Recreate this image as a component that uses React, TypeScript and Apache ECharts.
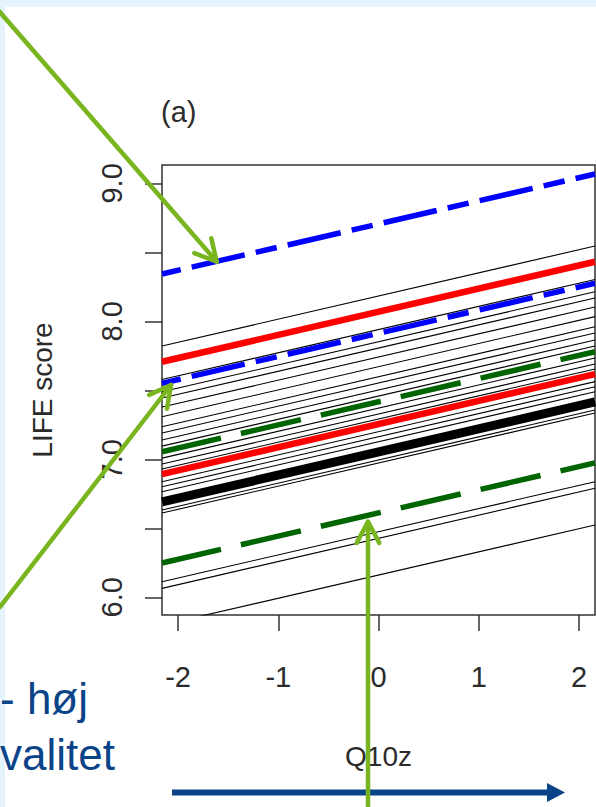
import React, { useEffect, useRef } from "react";
import * as echarts from "echarts";

// Axis extents (R-style 4% padding) and ticks
const X_MIN = -2.16;
const X_MAX = 2.16;
const Y_MIN = 5.872;
const Y_MAX = 9.133;
const X_TICKS = [-2, -1, 0, 1, 2];
const Y_TICKS = [6, 6.5, 7, 7.5, 8, 8.5, 9];
const Y_LABELS = [6, 7, 8, 9];

// Each line: LIFE score at the left edge (Q10z = X_MIN) and right edge (Q10z = X_MAX)
const THIN_LEFT = [7.821, 7.578, 7.49, 7.444, 7.379, 7.309, 7.236, 7.191, 7.14, 7.096, 7.009, 6.966, 6.93, 6.838, 6.801, 6.765, 6.633, 6.611, 6.113, 6.065, 5.799];
const THIN_RIGHT = [8.546, 8.303, 8.215, 8.169, 8.104, 8.034, 7.961, 7.916, 7.865, 7.821, 7.734, 7.691, 7.655, 7.563, 7.526, 7.49, 7.358, 7.336, 6.838, 6.79, 6.524];
const THICK_LEFT = [6.691];
const THICK_RIGHT = [7.416];
const RED_LEFT = [7.707, 6.893];
const RED_RIGHT = [8.432, 7.618];
const BLUE_LEFT = [8.343, 7.551];
const BLUE_RIGHT = [9.068, 8.276];
const GREEN_LEFT = [7.055, 6.249];
const GREEN_RIGHT = [7.78, 6.974];

const FONT = "'Liberation Sans', Arial, Helvetica, sans-serif";
const AXIS_TEXT = "#2b2b2b";
const ARROW_GREEN = "#79b51f";
const NAVY = "#0b4388";

function arrowHead(fx: number, fy: number, tx: number, ty: number, len: number, deg: number) {
  const dx = fx - tx, dy = fy - ty;
  const d = Math.hypot(dx, dy);
  const ux = dx / d, uy = dy / d;
  const a = (deg * Math.PI) / 180;
  const rot = (s: number) => [
    tx + len * (ux * Math.cos(s * a) - uy * Math.sin(s * a)),
    ty + len * (ux * Math.sin(s * a) + uy * Math.cos(s * a)),
  ];
  return [rot(1), [tx, ty], rot(-1)];
}

function greenArrow(fx: number, fy: number, tx: number, ty: number) {
  const style = { stroke: ARROW_GREEN, lineWidth: 4.5, lineCap: "round", lineJoin: "round", fill: null };
  return [
    { type: "line", shape: { x1: fx, y1: fy, x2: tx, y2: ty }, style, z: 100 },
    { type: "polyline", shape: { points: arrowHead(fx, fy, tx, ty, 24, 28) }, style, z: 100 },
  ];
}

export default function App() {
  const ref = useRef<HTMLDivElement>(null);
  useEffect(() => {
    if (!ref.current) return;
    const chart = echarts.init(ref.current, undefined, { renderer: "svg" });

    const line = (l: number, r: number, lineStyle: any, z: number) => ({
      type: "line",
      data: [[X_MIN, l], [X_MAX, r]],
      symbol: "none",
      silent: true,
      clip: true,
      z,
      lineStyle,
    });

    const series: any[] = [];
    THIN_LEFT.forEach((l, i) => series.push(line(l, THIN_RIGHT[i], { color: "#000", width: 1.1 }, 2)));
    THICK_LEFT.forEach((l, i) => series.push(line(l, THICK_RIGHT[i], { color: "#000", width: 9 }, 3)));
    RED_LEFT.forEach((l, i) => series.push(line(l, RED_RIGHT[i], { color: "#ff0000", width: 6.5 }, 4)));
    GREEN_LEFT.forEach((l, i) =>
      series.push(line(l, GREEN_RIGHT[i], { color: "#006400", width: 5.5, type: [61.5, 20.5], cap: "butt", dashOffset: 1 }, 4))
    );
    BLUE_LEFT.forEach((l, i) =>
      series.push(line(l, BLUE_RIGHT[i], { color: "#0000ff", width: 5.5, type: [54.4, 11.3, 21.5, 11.3], cap: "butt", dashOffset: 68.4 }, 4))
    );

    const axisText = { color: AXIS_TEXT, fontFamily: FONT, fontSize: 29 };

    chart.setOption({
      animation: false,
      backgroundColor: "#ffffff",
      grid: { left: 162, top: 165, width: 433, height: 450, show: true, borderColor: "#333", borderWidth: 1.5 },
      xAxis: {
        type: "value",
        min: X_MIN,
        max: X_MAX,
        axisLine: { show: false, onZero: false },
        splitLine: { show: false },
        axisTick: { show: true, customValues: X_TICKS, length: 16, lineStyle: { color: "#333", width: 1.5 } },
        axisLabel: { ...axisText, customValues: X_TICKS, margin: 47 },
        name: "Q10z",
        nameLocation: "middle",
        nameGap: 127,
        nameTextStyle: { ...axisText, fontSize: 28 },
      },
      yAxis: {
        type: "value",
        min: Y_MIN,
        max: Y_MAX,
        axisLine: { show: false, onZero: false },
        splitLine: { show: false },
        axisTick: { show: true, customValues: Y_TICKS, length: 17, lineStyle: { color: "#333", width: 1.5 } },
        axisLabel: { ...axisText, customValues: Y_LABELS, rotate: 90, margin: 36, formatter: (v: number) => v.toFixed(1) },
        name: "LIFE score",
        nameLocation: "middle",
        nameGap: 106,
        nameTextStyle: { ...axisText, fontSize: 28 },
      },
      series,
      graphic: [
        { type: "rect", shape: { x: 0, y: 0, width: 596, height: 7 }, style: { fill: "#e4f3fc" }, z: 0 },
        { type: "rect", shape: { x: 0, y: 0, width: 5, height: 807 }, style: { fill: "#e4f3fc" }, z: 0 },
        { type: "text", x: 161, y: 112, style: { text: "(a)", font: `29px ${FONT}`, fill: AXIS_TEXT, verticalAlign: "middle" }, z: 10 },
        { type: "text", x: 0, y: 698, style: { text: "- høj", font: `44px ${FONT}`, fill: NAVY, verticalAlign: "middle" }, z: 10 },
        { type: "text", x: 0, y: 754, style: { text: "valitet", font: `44px ${FONT}`, fill: NAVY, verticalAlign: "middle" }, z: 10 },
        { type: "line", shape: { x1: 172, y1: 792.5, x2: 550, y2: 792.5 }, style: { stroke: NAVY, lineWidth: 6 }, z: 10 },
        { type: "polygon", shape: { points: [[547, 783], [565, 792.5], [547, 802]] }, style: { fill: NAVY }, z: 10 },
        ...greenArrow(-2, 10, 216.7, 261.7),
        ...greenArrow(0, 607, 171, 385),
        ...greenArrow(368, 815, 368, 521.7),
      ],
    });
    return () => chart.dispose();
  }, []);
  return <div ref={ref} style={{ position: "absolute", left: 0, top: 0, width: 596, height: 807 }} />;
}
